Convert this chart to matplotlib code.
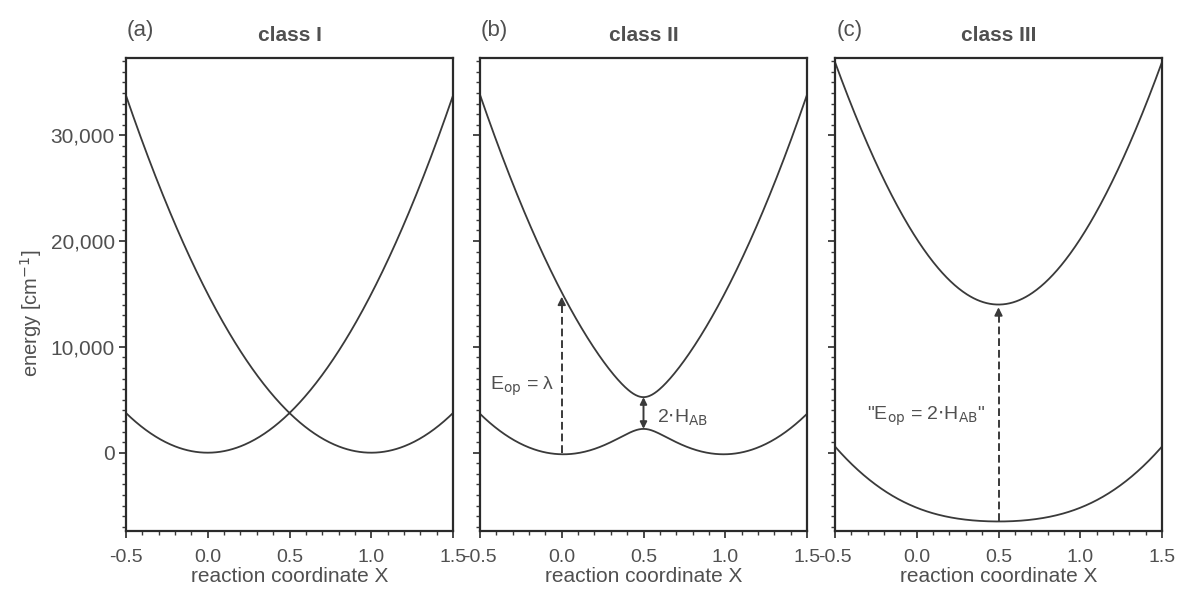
import matplotlib
matplotlib.use('Agg')
import matplotlib.pyplot as plt
import matplotlib.ticker as mticker
import numpy as np

plt.rcParams['font.family'] = ['Liberation Sans', 'DejaVu Sans']
plt.rcParams['axes.unicode_minus'] = False

# Marcus-Hush parameters (cm^-1)
reorg_energy = 15000          # lambda, upper diabatic at X=0
coupling = [0, 1500, 10250]   # H_AB for class I, II, III
panel_tags = ['(a)', '(b)', '(c)']
panel_titles = ['class I', 'class II', 'class III']
x_ticks = [-0.5, 0.0, 0.5, 1.0, 1.5]
y_ticks = [0, 10000, 20000, 30000]

line_col = '#3a3a3a'
text_col = '#505050'

x = np.linspace(-0.5, 1.5, 400)

fig = plt.figure(figsize=(11.77, 5.95), dpi=100)
lefts = [126 / 1177, 480 / 1177, 835 / 1177]
width = 327 / 1177
bottom = 1 - 531 / 595
height = 473 / 595

axes = []
for i in range(3):
    ax = fig.add_axes([lefts[i], bottom, width, height])
    axes.append(ax)
    h = coupling[i]
    ga = reorg_energy * x ** 2
    gb = reorg_energy * (x - 1) ** 2
    mean = (ga + gb) / 2
    split = np.sqrt(((ga - gb) / 2) ** 2 + h ** 2)
    ax.plot(x, mean - split, color=line_col, lw=1.3)
    ax.plot(x, mean + split, color=line_col, lw=1.3)

    ax.set_xlim(-0.5, 1.5)
    ax.set_ylim(-7400, 37300)
    ax.set_xticks(x_ticks)
    ax.xaxis.set_minor_locator(mticker.MultipleLocator(0.1))
    ax.set_yticks(y_ticks)
    ax.yaxis.set_minor_locator(mticker.MultipleLocator(1000))
    ax.yaxis.set_major_formatter(mticker.FuncFormatter(lambda v, p: f'{int(v):,}'))
    ax.tick_params(which='major', length=5, width=1.3, colors=line_col,
                   labelcolor=text_col, labelsize=15, pad=3)
    ax.tick_params(axis='x', which='major', labelsize=14, pad=8)
    ax.tick_params(which='minor', length=3, width=1.0, colors=line_col)
    if i > 0:
        ax.tick_params(axis='y', labelleft=False)
    for s in ax.spines.values():
        s.set_color('#2a2a2a')
        s.set_linewidth(1.6)
    ax.set_xlabel('reaction coordinate X', fontsize=15, color=text_col, labelpad=1)
    ax.set_title(panel_titles[i], fontsize=15, fontweight='bold', color=text_col, pad=12)
    ax.text(0.045, 1.035, panel_tags[i], transform=ax.transAxes, fontsize=16,
            color=text_col, va='bottom', ha='center')

axes[0].set_ylabel('energy [cm$^{-1}$]', fontsize=14.5, color=text_col)
axes[0].yaxis.set_label_coords(-0.25, 0.46)

# class II annotations
ax = axes[1]
h = coupling[1]
cross = reorg_energy * 0.25
ax.plot([0, 0], [0, reorg_energy - 900], color=line_col, lw=1.4, ls=(0, (4, 2)))
ax.annotate('', xy=(0, reorg_energy), xytext=(0, reorg_energy - 1000),
            arrowprops=dict(arrowstyle='-|>', color=line_col, lw=1.2, mutation_scale=12))
ax.annotate('', xy=(0.5, cross + h), xytext=(0.5, cross - h),
            arrowprops=dict(arrowstyle='<|-|>', color=line_col, lw=1.4,
                            mutation_scale=10, shrinkA=0, shrinkB=0))
ax.text(-0.44, 6300, r'E$_{\rm op}$ = λ', fontsize=14, color=text_col, va='center')
ax.text(0.58, 3300, r'2$\cdot$H$_{\rm AB}$', fontsize=14, color=text_col, va='center')

# class III annotations
ax = axes[2]
h = coupling[2]
ax.plot([0.5, 0.5], [cross - h, cross + h - 900], color=line_col, lw=1.4, ls=(0, (4, 2)))
ax.annotate('', xy=(0.5, cross + h), xytext=(0.5, cross + h - 1000),
            arrowprops=dict(arrowstyle='-|>', color=line_col, lw=1.2, mutation_scale=12))
ax.text(0.42, 3400, r'"E$_{\rm op}$ = 2$\cdot$H$_{\rm AB}$"', fontsize=14,
        color=text_col, va='center', ha='right')

fig.savefig('out.png', dpi=100)
